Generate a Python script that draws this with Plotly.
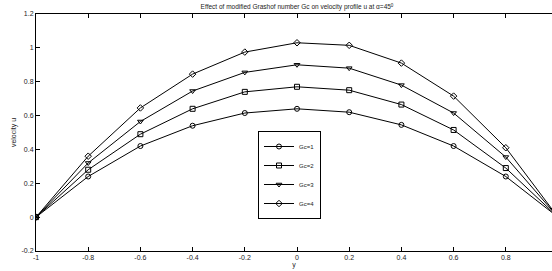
import plotly.graph_objects as go

y_vals = [-1, -0.8, -0.6, -0.4, -0.2, 0, 0.2, 0.4, 0.6, 0.8, 1]
u_gc1 = [0, 0.24, 0.42, 0.54, 0.615, 0.64, 0.62, 0.545, 0.42, 0.24, 0]
u_gc2 = [0, 0.28, 0.49, 0.64, 0.74, 0.77, 0.75, 0.665, 0.515, 0.29, 0]
u_gc3 = [0, 0.32, 0.565, 0.745, 0.855, 0.90, 0.88, 0.78, 0.615, 0.355, 0]
u_gc4 = [0, 0.36, 0.645, 0.845, 0.975, 1.03, 1.015, 0.91, 0.715, 0.41, 0]
names = ["Gc=1", "Gc=2", "Gc=3", "Gc=4"]
symbols = ["circle-open", "square-open", "triangle-down-open", "diamond-open"]
series = [u_gc1, u_gc2, u_gc3, u_gc4]

x_ticks = [-1, -0.8, -0.6, -0.4, -0.2, 0, 0.2, 0.4, 0.6, 0.8, 1]
y_ticks = [-0.2, 0, 0.2, 0.4, 0.6, 0.8, 1, 1.2]

FAM = "Liberation Sans, Arial, sans-serif"

fig = go.Figure()
for name, sym, u in zip(names, symbols, series):
    fig.add_trace(go.Scatter(
        x=y_vals, y=u, name=name, mode="lines+markers",
        line=dict(color="black", width=1),
        marker=dict(symbol=sym, size=5, color="black", line=dict(width=1, color="black")),
    ))

fig.update_layout(
    width=552, height=271,
    margin=dict(l=36, r=0, t=14, b=20, autoexpand=False),
    paper_bgcolor="white", plot_bgcolor="white",
    font=dict(family=FAM, size=7, color="#222"),
    title=dict(text="Effect of modified Grashof number Gc on velocity profile u at \u03b1=45<sup>0</sup>",
               x=297/552, xanchor="center", y=1-7/271, yanchor="middle",
               font=dict(family=FAM, size=6.5, color="#222")),
    showlegend=True,
    legend=dict(x=(258-36)/516, y=(251-131)/237, xanchor="left", yanchor="top",
                bgcolor="white", bordercolor="black", borderwidth=1,
                font=dict(family=FAM, size=6, color="#222"),
                itemwidth=30, tracegroupgap=0),
)
fig.update_xaxes(
    range=[-1, 0.977], tickvals=x_ticks, ticktext=[str(v) for v in x_ticks],
    showline=True, linecolor="black", linewidth=1, mirror="ticks",
    ticks="inside", ticklen=4, tickcolor="black", showgrid=False, zeroline=False,
    automargin=False, tickfont=dict(size=7),
    title=dict(text="y", standoff=1, font=dict(size=7)),
)
fig.update_yaxes(
    range=[-0.2, 1.2], tickvals=y_ticks, ticktext=[str(v) for v in y_ticks],
    showline=True, linecolor="black", linewidth=1, mirror=False,
    ticks="inside", ticklen=4, tickcolor="black", showgrid=False, zeroline=False,
    automargin=False, tickfont=dict(size=7),
    title=dict(text="velocity u", standoff=4, font=dict(size=7)),
)
fig.write_html("out.html", config={"displayModeBar": False},
               post_script="document.body.style.margin='0';document.body.style.overflow='hidden';")
